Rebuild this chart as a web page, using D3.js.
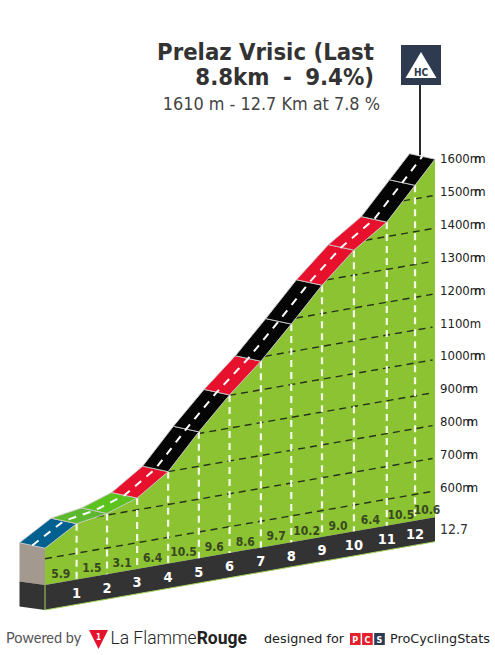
<!DOCTYPE html>
<html><head><meta charset="utf-8">
<script src="https://cdn.jsdelivr.net/npm/d3@7"></script>
<style>html,body{margin:0;padding:0;background:#fff;overflow:hidden}svg{display:block}</style>
</head><body><svg id="c" width="495" height="655"></svg>
<script>
const titleLines = ["Prelaz Vrisic (Last", "8.8km - 9.4%)"];
const subtitle = "1610 m - 12.7 Km at 7.8 %";
const kmDistance = [0, 1.03, 2.02, 3.0, 4.01, 5.01, 6.01, 7.03, 8.02, 9.02, 10.06, 11.13, 12.05, 12.7];
const elevation  = [632, 690, 705, 736, 800, 905, 1001, 1087, 1184, 1286, 1376, 1444, 1541, 1610];
const gradients  = ["5.9","1.5","3.1","6.4","10.5","9.6","8.6","9.7","10.2","9.0","6.4","10.5","10.6"];
const kmLabels   = ["1","2","3","4","5","6","7","8","9","10","11","12"];
const segmentColors = ["#00608f","#5cb82c","#5cc21e","#e8112d","#050505","#050505","#e8112d","#050505","#050505","#e8112d","#e8112d","#050505","#050505"];
const elevTicks = [600,700,800,900,1000,1100,1200,1300,1400,1500,1600];
const COND = "'DejaVu Sans Condensed', 'DejaVu Sans', sans-serif";

const svg = d3.select("#c");
const x = d3.scaleLinear().domain([0,12.7]).range([45,435]);
const base = d3.scaleLinear().domain([0,12.7]).range([585,517.2]);
const rise = d3.scaleLinear().domain([520,1610]).range([0,-358]);
const Y = (km,e) => base(km)+rise(e);
const depth = [-25.5,-5.5];
const pts = kmDistance.map((d,i)=>({km:d,e:elevation[i]}));
const px = p => [x(p.km),Y(p.km,p.e)];
const line = d3.line();

// side wall
const wallTop = px(pts[0]);
svg.append("path").attr("d",line([[x(0)+depth[0],wallTop[1]+depth[1]],wallTop,[x(0),base(0)],[x(0)+depth[0],base(0)-3.5]])).attr("fill","#a3998f");
svg.append("path").attr("d",line([[x(0)+depth[0],base(0)-3.5],[x(0),base(0)],[x(0),base(0)+25],[x(0)+depth[0],base(0)+21.5]])).attr("fill","#333333");

// profile body
const bodyPts = pts.map(px).concat([[x(12.7),base(12.7)],[x(0),base(0)]]);
svg.append("path").attr("d",line(bodyPts)+"Z").attr("fill","#8cc332");

// base band
svg.append("path").attr("d",line([[x(0),base(0)],[x(12.7),base(12.7)],[x(12.7),base(12.7)+24.5],[x(0),base(0)+25]])+"Z")
  .attr("fill","#333333");
svg.append("path").attr("d",line([[x(0),base(0)],[x(0),base(0)+25],[x(12.7),base(12.7)+24.5]])).attr("fill","none").attr("stroke","#a6d15c").attr("stroke-width",1);

// elevation grid lines
function crossKm(e){
  if(e<=elevation[0]) return 0;
  const i=d3.bisectLeft(elevation,e);
  return d3.scaleLinear().domain([elevation[i-1],elevation[i]]).range([kmDistance[i-1],kmDistance[i]])(e);
}
svg.append("g").selectAll("line").data(elevTicks.filter(e=>e<1600)).join("line")
  .attr("x1",e=>x(crossKm(e))).attr("y1",e=>Y(crossKm(e),e))
  .attr("x2",x(12.62)).attr("y2",e=>Y(12.62,e))
  .attr("stroke","#26331a").attr("stroke-width",1.4).attr("stroke-dasharray","7 5");

// km lines
svg.append("g").selectAll("line").data(pts.slice(1,13)).join("line")
  .attr("x1",p=>x(p.km)).attr("x2",p=>x(p.km))
  .attr("y1",p=>Y(p.km,p.e)).attr("y2",p=>base(p.km))
  .attr("stroke","#f4fae8").attr("stroke-width",2.2).attr("stroke-dasharray","7 5");

// road
const segs = d3.pairs(pts).map(([a,b],i)=>({a,b,c:segmentColors[i]}));
svg.append("g").selectAll("path").data(segs).join("path")
  .attr("d",s=>{const A=px(s.a),B=px(s.b);return line([A,B,[B[0]+depth[0],B[1]+depth[1]],[A[0]+depth[0],A[1]+depth[1]]])+"Z";})
  .attr("fill",s=>s.c).attr("stroke","#c9c9c9").attr("stroke-width",0.9).attr("stroke-linejoin","round");
const mid = pts.map(p=>{const P=px(p);return [P[0]+depth[0]/2,P[1]+depth[1]/2];});
svg.append("path").attr("d",line(mid)).attr("fill","none").attr("stroke","#fff").attr("stroke-width",2).attr("stroke-dasharray","8 7");

// pole and HC flag
svg.append("line").attr("x1",420).attr("x2",420).attr("y1",85).attr("y2",155).attr("stroke","#111").attr("stroke-width",1.8);
svg.append("rect").attr("x",401).attr("y",45).attr("width",40).attr("height",40).attr("fill","#2d3a4f");
svg.append("path").attr("d",line([[421,52],[436.5,78],[405.5,78]])+"Z").attr("fill","#fff");
svg.append("text").attr("x",421).attr("y",75.5).attr("text-anchor","middle").attr("font-family",COND).attr("font-weight",700).attr("font-size",10).attr("fill","#2d3a4f").text("HC");

// gradient labels
svg.append("g").selectAll("text").data(segs).join("text")
  .attr("x",(s,i)=>i===12?x(12.7)-8:x((s.a.km+s.b.km)/2))
  .attr("y",(s,i)=>{const k=(s.a.km+s.b.km)/2; return base(i===12?12.4:k)-4.5;})
  .attr("text-anchor","middle").attr("font-family",COND).attr("font-weight",700).attr("font-size",12)
  .attr("fill","#38471f").text((s,i)=>gradients[i]);

// km labels
svg.append("g").selectAll("text").data(kmLabels).join("text")
  .attr("x",(d,i)=>x(kmDistance[i+1])).attr("y",(d,i)=>base(kmDistance[i+1])+18.5)
  .attr("text-anchor","middle").attr("font-family",COND).attr("font-weight",700).attr("font-size",14.5)
  .attr("fill","#fff").text(d=>d);

// elevation labels
const tickY = e => rise(e)+515.5+2.6;
const lab = svg.append("g").attr("font-family",COND).attr("font-size",13).attr("fill","#222");
const tick = lab.selectAll("text").data(elevTicks).join("text").attr("x",440).attr("y",tickY);
tick.text(e=>e);
tick.append("tspan").text("m").attr("letter-spacing",e=>e===1100?0:-7);
tick.filter(e=>e!==1100).append("tspan").text("m");
svg.append("text").attr("x",440).attr("y",533.5).attr("font-family",COND).attr("font-size",14).attr("fill","#333").text("12.7");

// title
const t = svg.append("g").attr("font-family",COND).attr("text-anchor","end").attr("fill","#333");
t.selectAll("text").data(titleLines).join("text").attr("x",374).attr("y",(d,i)=>60+i*25).attr("font-weight",700).attr("font-size",23.7)
  .attr("word-spacing",(d,i)=>i?6:0).text(d=>d);
svg.append("text").attr("x",380).attr("y",110).attr("text-anchor","end").attr("font-family",COND).attr("font-size",17.9).attr("fill","#444").text(subtitle);

// footer
svg.append("text").attr("x",6).attr("y",643).attr("font-family","Lato, sans-serif").attr("font-size",14.5).attr("fill","#555").text("Powered by");
svg.append("path").attr("d",line([[89,630],[108,630],[98.5,649]])+"Z").attr("fill","#e4122c");
svg.append("text").attr("x",98.5).attr("y",640).attr("text-anchor","middle").attr("font-family",COND).attr("font-size",8).attr("font-weight",700).attr("fill","#fff").text("1");
const lf = svg.append("text").attr("x",110.5).attr("y",644).attr("font-family","Roboto, sans-serif").attr("font-size",17.5).attr("fill","#222");
lf.append("tspan").attr("font-weight",300).text("La Flamme");
lf.append("tspan").attr("font-weight",700).text("Rouge");
svg.append("text").attr("x",264).attr("y",643).attr("font-family","DejaVu Sans, sans-serif").attr("font-size",12.8).attr("fill","#222").text("designed for");
const pcsLetters = ["P","C","S"], pcsColors = ["#e4202c","#e4202c","#2d3a4f"];
const pcs = svg.append("g").selectAll("g").data(pcsLetters).join("g").attr("transform",(d,i)=>`translate(${350+i*12.1},633)`);
pcs.append("rect").attr("width",10.6).attr("height",12).attr("fill",(d,i)=>pcsColors[i]);
pcs.append("text").attr("x",5.3).attr("y",9.5).attr("text-anchor","middle").attr("font-family","DejaVu Sans, sans-serif").attr("font-weight",700).attr("font-size",8).attr("fill","#fff").text(d=>d);
svg.append("text").attr("x",390).attr("y",643).attr("font-family","DejaVu Sans, sans-serif").attr("font-size",12.8).attr("fill","#222").text("ProCyclingStats");
</script></body></html>
